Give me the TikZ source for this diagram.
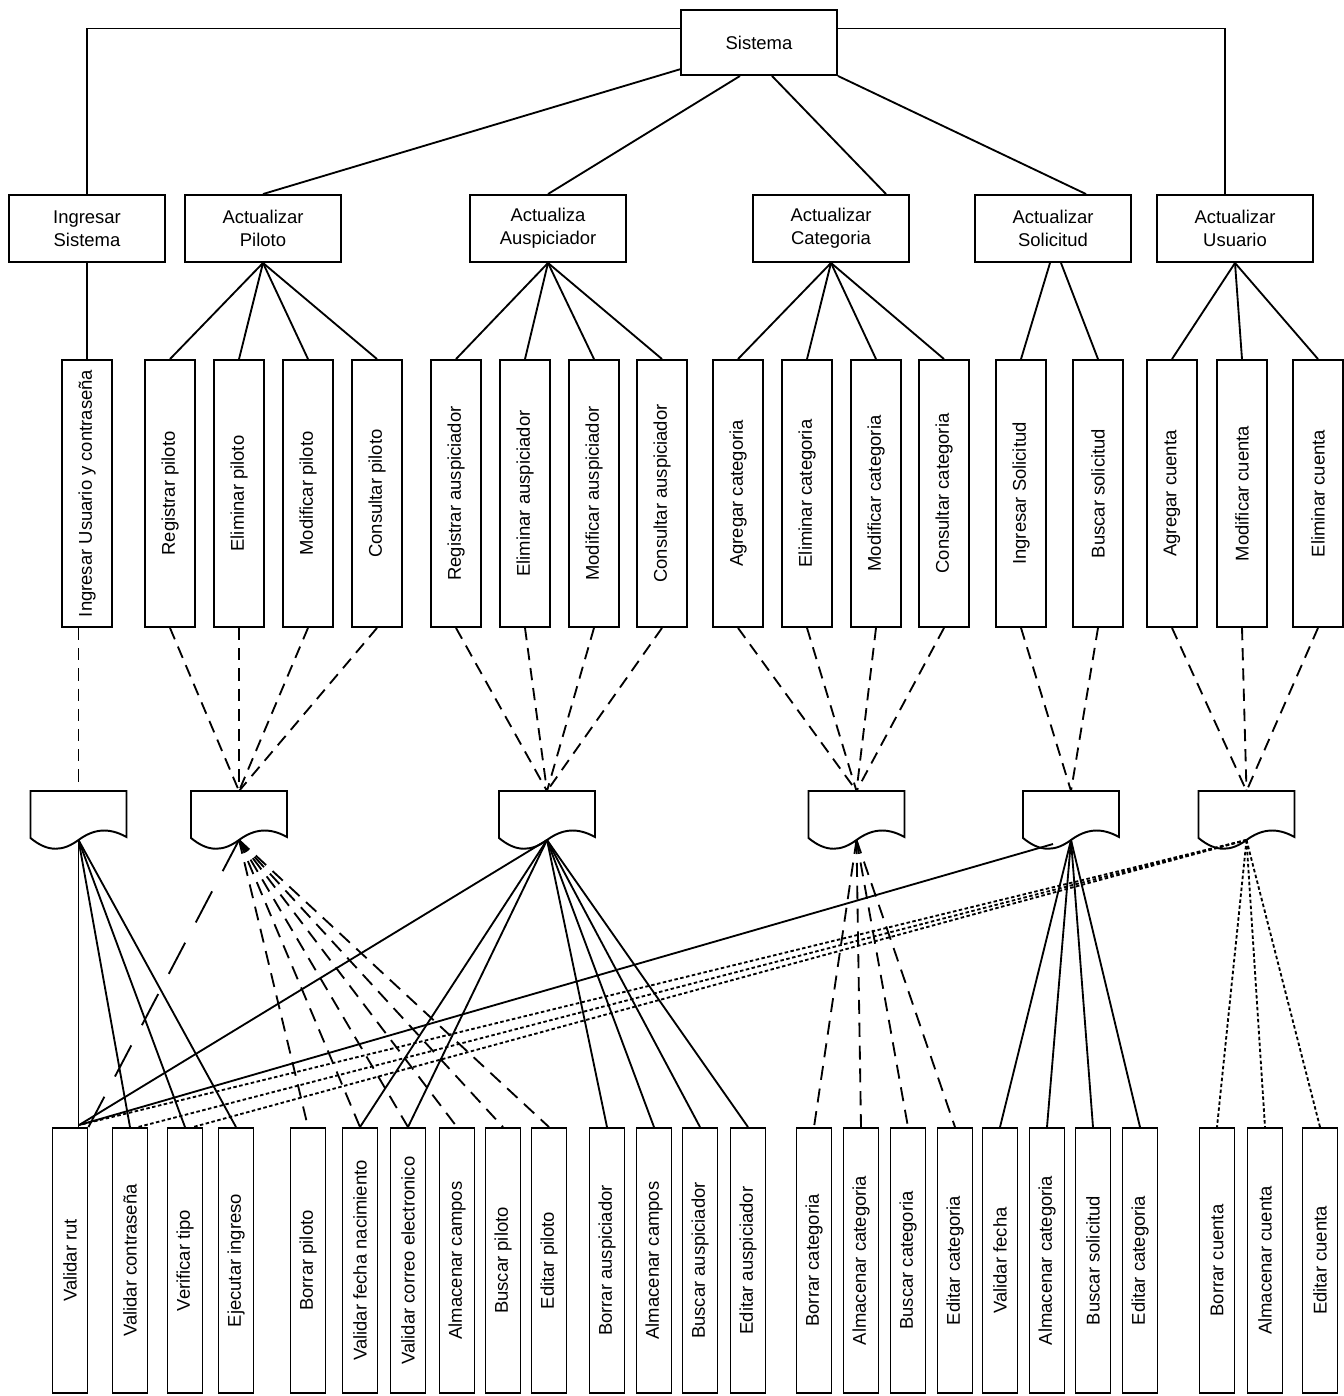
\documentclass[tikz,border=0pt]{standalone}
\usepackage{fontspec}
\setmainfont{Liberation Sans}
\usetikzlibrary{calc}
\newcommand\mydocshape[1]{%
  \draw[line width=1.1pt,fill=white] (#1.north west) -- (#1.north east) -- ($(#1.south east)+(0,-3)$)
    .. controls ($(#1.south east)+(-18,-13)$) and ($(#1.south)+(15,-11)$) .. (#1.south)
    .. controls ($(#1.south)+(-15,11)$) and ($(#1.south west)+(18,13)$) .. ($(#1.south west)+(0,-2)$) -- cycle;}
\begin{document}
\begin{tikzpicture}[x=0.02cm,y=-0.02cm,
  font=\fontsize{10.5}{13}\selectfont,
  box/.style={draw,line width=1.1pt,fill=white,inner sep=0pt,align=center},
  topbox/.style={box,minimum width=3.12cm,minimum height=1.3cm},
  midbox/.style={box,minimum width=3.12cm,minimum height=1.34cm},
  vbox/.style={box,minimum width=1.0cm,minimum height=5.34cm},
  lowbox/.style={box,minimum width=0.7cm,minimum height=5.3cm},
  docarea/.style={inner sep=0pt,outer sep=0pt,minimum width=1.92cm,minimum height=0.98cm},
  conn/.style={line width=1.05pt},
  dashin/.style={conn,dash pattern=on 7pt off 4.5pt},
  longdash/.style={conn,dash pattern=on 8pt off 5pt},
  vlongdash/.style={conn,dash pattern=on 20pt off 13pt},
  dotline/.style={conn,dash pattern=on 2pt off 1.4pt},
]
\useasboundingbox (0,0) rectangle (1343,1396);

% top
\node[topbox] (sis) at (759,42.5) {Sistema};

% level 2
\node[midbox] (ins) at (87,228.5)   {Ingresar\\Sistema};
\node[midbox] (pil) at (263,228.5)  {Actualizar\\Piloto};
\node[midbox] (aus) at (548,228.5)  {Actualiza\\Auspiciador};
\node[midbox] (cat) at (831,228.5)  {Actualizar\\Categoria};
\node[midbox] (sol) at (1053,228.5) {Actualizar\\Solicitud};
\node[midbox] (usu) at (1235,228.5) {Actualizar\\Usuario};

% level 3
\foreach \n/\x/\t in {iu/87/Ingresar Usuario y contraseña, rp/170/Registrar piloto,
  ep/239/Eliminar piloto, mp/308/Modificar piloto, cp/377/Consultar piloto,
  ra/456/Registrar auspiciador, ea/525/Eliminar auspiciador, ma/594/Modificar auspiciador,
  ca/662/Consultar auspiciador, ag/738/Agregar categoria, ec/807/Eliminar categoria,
  mc/876/Modificar categoria, cc/944/Consultar categoria, isol/1021/Ingresar Solicitud,
  bsol/1098/Buscar solicitud, acu/1172/Agregar cuenta, mcu/1242/Modificar cuenta,
  ecu/1318/Eliminar cuenta}
  \node[vbox] (\n) at (\x,493.5) {\rotatebox{90}{\t}};

% documents
\foreach \n/\x in {d1/78.5, d2/239, d3/547, d4/856.5, d5/1071, d6/1246.5}
  \node[docarea] (\n) at (\x,815.5) {};
\foreach \n in {d1,d2,d3,d4,d5,d6} {\mydocshape{\n}}

% bottom
\foreach \n/\x/\t in {rut/70/Validar rut, vc/130/Validar contraseña, vt/185/Verificar tipo,
  ej/236/Ejecutar ingreso, bp/308/Borrar piloto, vfn/360/Validar fecha nacimiento,
  vce/408/Validar correo electronico, alca/457/Almacenar campos, bpi/503/Buscar piloto,
  edp/549/Editar piloto, ba/607/Borrar auspiciador, alcb/654/Almacenar campos,
  bau/700/Buscar auspiciador, edau/748/Editar auspiciador, bc/814/Borrar categoria,
  alcata/861/Almacenar categoria, bcat/908/Buscar categoria, edcata/955/Editar categoria,
  vf/1000/Validar fecha, alcatb/1047/Almacenar categoria, bsl/1093/Buscar solicitud,
  edcatb/1140/Editar categoria, bcu/1217/Borrar cuenta, alcu/1265/Almacenar cuenta,
  edcu/1320/Editar cuenta}
  \node[lowbox] (\n) at (\x,1260.5) {\rotatebox{90}{\t}};

% Sistema connectors
\draw[conn] ($(sis.north west)!0.29!(sis.south west)$) -| (ins.north);
\draw[conn] ($(sis.north east)!0.29!(sis.south east)$) -| ($(usu.north)+(-10,0)$);
\draw[conn] ($(sis.north west)!0.9!(sis.south west)$) -- (pil.north);
\draw[conn] ($(sis.south)+(-19,0)$) -- (aus.north);
\draw[conn] ($(sis.south)+(13,0)$) -- ($(cat.north)+(55,0)$);
\draw[conn] (sis.south east) -- ($(sol.north)+(33,0)$);

% level 2 -> level 3
\draw[conn] (ins.south) -- (iu.north);
\foreach \c in {rp,ep,mp,cp} \draw[conn] (pil.south) -- (\c.north);
\foreach \c in {ra,ea,ma,ca} \draw[conn] (aus.south) -- (\c.north);
\foreach \c in {ag,ec,mc,cc} \draw[conn] (cat.south) -- (\c.north);
\draw[conn] ($(sol.south)+(-3,0)$) -- (isol.north);
\draw[conn] ($(sol.south)+(8,0)$) -- (bsol.north);
\foreach \c in {acu,mcu,ecu} \draw[conn] (usu.south) -- (\c.north);

% level 3 -> documents
\draw[dashin] (iu.south -| d1.north) -- (d1.north);
\foreach \c in {rp,ep,mp,cp} \draw[dashin] (\c.south) -- (d2.north);
\foreach \c in {ra,ea,ma,ca} \draw[dashin] (\c.south) -- (d3.north);
\foreach \c in {ag,ec,mc,cc} \draw[dashin] (\c.south) -- (d4.north);
\foreach \c in {isol,bsol} \draw[dashin] (\c.south) -- (d5.north);
\foreach \c in {acu,mcu,ecu} \draw[dashin] (\c.south) -- (d6.north);

% documents -> bottom
\coordinate (rutin) at ($(rut.north)+(9,-2)$);
\draw[conn] (d1.south) -- (d1.south |- rut.north);
\foreach \c in {vc,vt,ej} \draw[conn] (d1.south) -- (\c.north);

\draw[vlongdash] (d2.south) -- (rut.north east);
\foreach \c in {bp,vfn,vce,alca,bpi,edp} \draw[longdash] (d2.south) -- (\c.north);

\draw[conn] (d3.south) -- (rutin);
\foreach \c in {vfn,vce,ba,alcb,bau,edau} \draw[conn] (d3.south) -- (\c.north);

\foreach \c in {bc,alcata,bcat,edcata} \draw[longdash] (d4.south) -- (\c.north);

\draw[conn] ($(d5.south)+(-18,4)$) -- (rutin);
\foreach \c in {vf,alcatb,bsl,edcatb} \draw[conn] (d5.south) -- (\c.north);

\draw[dotline] (d6.south) -- (rutin);
\draw[dotline] (d6.south) -- ($(vc.north)+(8,0)$);
\draw[dotline] (d6.south) -- ($(vt.north)+(8,0)$);
\foreach \c in {bcu,alcu,edcu} \draw[dotline] (d6.south) -- (\c.north);
\end{tikzpicture}
\end{document}
